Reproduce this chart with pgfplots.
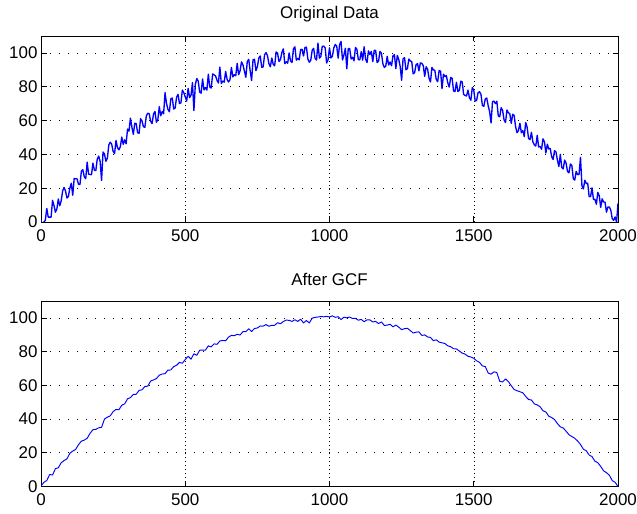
\documentclass[border=0pt]{standalone}
\usepackage{fontspec}
\setmainfont{Liberation Sans}
\usepackage{pgfplots}
\pgfplotsset{compat=1.18}
\pgfplotsset{mystyle/.style={
  scale only axis, width=577bp, height=186bp,
  xmin=0, xmax=2000, ymin=0, ymax=110,
  xtick={0,500,1000,1500,2000}, ytick={0,20,40,60,80,100},
  tick align=inside, major tick length=5.5bp,
  tick style={black, line width=0.6bp},
  axis line style={black, line width=0.8bp},
  grid=major,
  x grid style={black, line width=0.5bp, dash pattern=on 1bp off 3bp},
  y grid style={black, line width=0.6bp, dash pattern=on 1bp off 8bp},
  /pgf/number format/assume math mode=true,
  /pgf/number format/1000 sep={},
  scaled ticks=false,
  ticklabel style={font=\fontsize{17}{20}\selectfont},
  xticklabel style={yshift=-4bp},
  title style={font=\fontsize{17}{20}\selectfont, text depth=0pt},
}}
\begin{document}
\begin{tikzpicture}
\useasboundingbox (0bp,0bp) rectangle (637bp,514bp);
\begin{axis}[mystyle, at={(41bp,292bp)}, anchor=south west, title={Original Data}, title style={yshift=8bp}]
\addplot[blue, line width=1.35bp, line join=round] coordinates {
(0,1.0)(5,-2.0)(10,0.0)(15,1.0)(20,8.0)(25,2.9)(30,2.9)(35,2.9)(40,12.8)(45,9.8)
(50,5.8)(55,7.7)(60,13.6)(65,9.6)(70,12.5)(75,18.4)(80,20.4)(85,18.3)(90,14.2)(95,15.1)
(100,20.0)(105,22.9)(110,15.8)(115,25.7)(120,25.6)(125,25.5)(130,22.3)(135,22.2)(140,30.0)(145,30.9)
(150,26.8)(155,25.6)(160,35.4)(165,28.3)(170,28.1)(175,28.0)(180,34.8)(185,30.6)(190,30.4)(195,37.2)
(200,39.0)(205,35.8)(210,24.6)(215,41.4)(220,40.2)(225,35.9)(230,37.7)(235,45.5)(240,47.2)(245,46.0)
(250,41.8)(255,40.5)(260,48.2)(265,44.0)(270,42.7)(275,44.5)(280,50.2)(285,45.9)(290,48.6)(295,46.3)
(300,55.0)(305,53.7)(310,61.4)(315,56.1)(320,51.8)(325,58.4)(330,58.1)(335,52.8)(340,52.4)(345,61.1)
(350,59.8)(355,56.4)(360,56.0)(365,62.7)(370,64.3)(375,64.0)(380,59.6)(385,58.2)(390,63.8)(395,65.4)
(400,59.0)(405,60.6)(410,68.2)(415,62.8)(420,65.4)(425,64.0)(430,76.5)(435,70.1)(440,66.6)(445,65.2)
(450,72.8)(455,73.3)(460,66.8)(465,67.4)(470,73.9)(475,75.5)(480,70.0)(485,70.5)(490,78.0)(495,76.5)
(500,74.0)(505,71.5)(510,79.0)(515,73.5)(520,75.0)(525,82.4)(530,65.9)(535,81.4)(540,84.8)(545,83.3)
(550,76.8)(555,76.2)(560,84.6)(565,78.1)(570,79.5)(575,78.0)(580,87.4)(585,79.8)(590,79.2)(595,87.6)
(600,87.0)(605,86.4)(610,83.8)(615,82.2)(620,91.6)(625,81.9)(630,83.3)(635,82.7)(640,89.0)(645,84.4)
(650,82.8)(655,84.1)(660,91.4)(665,85.8)(670,87.1)(675,86.5)(680,93.8)(685,87.1)(690,89.4)(695,94.7)
(700,93.0)(705,89.3)(710,85.6)(715,94.9)(720,96.2)(725,89.4)(730,83.7)(735,96.0)(740,96.2)(745,89.5)
(750,91.8)(755,97.0)(760,98.2)(765,91.5)(770,91.7)(775,98.9)(780,100.2)(785,98.4)(790,93.6)(795,91.8)
(800,97.0)(805,93.2)(810,92.4)(815,100.6)(820,99.8)(825,94.9)(830,96.1)(835,100.3)(840,102.4)(845,93.6)
(850,94.8)(855,93.9)(860,100.0)(865,95.2)(870,94.3)(875,102.4)(880,103.6)(885,95.7)(890,96.8)(895,95.9)
(900,102.0)(905,102.1)(910,98.2)(915,103.3)(920,103.4)(925,96.4)(930,94.5)(935,95.6)(940,101.6)(945,102.7)
(950,96.8)(955,95.8)(960,105.8)(965,96.9)(970,97.9)(975,103.9)(980,104.0)(985,103.0)(990,94.0)(995,96.0)
(1000,103.0)(1005,97.0)(1010,98.0)(1015,103.0)(1020,105.0)(1025,104.0)(1030,96.9)(1035,104.9)(1040,106.8)(1045,95.8)
(1050,98.8)(1055,102.7)(1060,90.6)(1065,102.6)(1070,102.5)(1075,96.4)(1080,97.4)(1085,95.3)(1090,103.2)(1095,102.1)
(1100,96.0)(1105,95.9)(1110,100.8)(1115,95.7)(1120,103.6)(1125,96.4)(1130,94.3)(1135,101.2)(1140,99.0)(1145,100.9)
(1150,94.8)(1155,101.6)(1160,101.4)(1165,94.3)(1170,95.1)(1175,100.9)(1180,99.8)(1185,93.6)(1190,91.4)(1195,92.2)
(1200,98.0)(1205,92.8)(1210,94.6)(1215,92.4)(1220,98.2)(1225,99.0)(1230,90.7)(1235,98.5)(1240,96.2)(1245,92.0)
(1250,83.8)(1255,96.5)(1260,97.2)(1265,90.0)(1270,90.7)(1275,96.4)(1280,95.2)(1285,94.9)(1290,87.6)(1295,88.3)
(1300,93.0)(1305,93.7)(1310,89.4)(1315,94.1)(1320,93.8)(1325,92.5)(1330,86.1)(1335,91.8)(1340,90.4)(1345,85.1)
(1350,82.8)(1355,91.4)(1360,90.0)(1365,89.7)(1370,84.3)(1375,83.0)(1380,89.6)(1385,89.2)(1390,78.8)(1395,87.4)
(1400,86.0)(1405,86.6)(1410,82.2)(1415,79.8)(1420,85.4)(1425,85.0)(1430,77.5)(1435,77.1)(1440,82.6)(1445,77.2)
(1450,77.8)(1455,83.3)(1460,82.8)(1465,75.4)(1470,74.9)(1475,74.5)(1480,78.0)(1485,73.5)(1490,72.0)(1495,79.5)
(1500,78.0)(1505,71.5)(1510,72.0)(1515,76.5)(1520,77.0)(1525,75.5)(1530,68.9)(1535,68.4)(1540,72.8)(1545,73.3)
(1550,68.8)(1555,65.2)(1560,58.6)(1565,71.1)(1570,71.5)(1575,70.0)(1580,71.4)(1585,62.8)(1590,62.2)(1595,67.6)
(1600,66.0)(1605,60.4)(1610,58.8)(1615,66.2)(1620,64.6)(1625,64.0)(1630,58.3)(1635,63.7)(1640,63.0)(1645,56.4)
(1650,52.8)(1655,54.1)(1660,58.4)(1665,52.8)(1670,54.1)(1675,50.5)(1680,58.8)(1685,56.1)(1690,49.4)(1695,48.7)
(1700,53.0)(1705,47.3)(1710,45.6)(1715,44.9)(1720,51.2)(1725,44.4)(1730,44.7)(1735,43.0)(1740,49.2)(1745,47.5)
(1750,40.8)(1755,46.0)(1760,43.2)(1765,43.5)(1770,38.7)(1775,37.0)(1780,42.2)(1785,41.4)(1790,36.6)(1795,32.8)
(1800,40.0)(1805,32.2)(1810,31.4)(1815,36.6)(1820,34.8)(1825,29.9)(1830,29.1)(1835,34.3)(1840,33.4)(1845,25.6)
(1850,24.8)(1855,29.9)(1860,28.0)(1865,28.2)(1870,38.3)(1875,21.4)(1880,19.6)(1885,24.7)(1890,22.8)(1895,22.9)
(1900,15.0)(1905,15.1)(1910,20.2)(1915,13.3)(1920,13.4)(1925,10.5)(1930,17.5)(1935,15.6)(1940,8.6)(1945,13.7)
(1950,11.8)(1955,11.8)(1960,5.8)(1965,8.9)(1970,8.9)(1975,7.0)(1980,2.0)(1985,1.0)(1990,3.0)(1995,0.0)
(2000,11.0)
};
\end{axis}
\begin{axis}[mystyle, height=185.5bp, at={(41bp,27.5bp)}, anchor=south west, title={After GCF}, title style={yshift=6bp}]
\addplot[blue, line width=0.95bp, line join=round] coordinates {
(0,0.3)(10,2.5)(20,3.5)(30,7.1)(40,6.8)(50,10.6)(60,11.1)(70,14.1)(80,15.4)(90,16.4)
(100,19.7)(110,21.0)(120,22.0)(130,24.8)(140,26.9)(150,27.5)(160,28.6)(170,31.5)(180,33.7)(190,33.9)
(200,34.8)(210,35.1)(220,40.0)(230,41.1)(240,41.9)(250,44.4)(260,45.7)(270,45.5)(280,48.2)(290,49.0)
(300,52.0)(310,52.7)(320,54.6)(330,54.7)(340,57.0)(350,57.3)(360,59.3)(370,59.5)(380,62.5)(390,63.2)
(400,64.0)(410,66.0)(420,66.7)(430,66.9)(440,69.0)(450,69.1)(460,71.1)(470,71.9)(480,73.6)(490,73.1)
(500,75.3)(510,77.2)(520,75.5)(530,78.7)(540,77.8)(550,80.8)(560,80.9)(570,80.9)(580,83.4)(590,82.8)
(600,84.6)(610,84.3)(620,86.3)(630,86.6)(640,86.4)(650,88.6)(660,89.6)(670,89.4)(680,90.3)(690,89.8)
(700,91.8)(710,91.8)(720,93.5)(730,91.9)(740,93.7)(750,94.0)(760,95.2)(770,95.1)(780,96.0)(790,95.0)
(800,95.6)(810,95.6)(820,97.1)(830,96.5)(840,97.8)(850,98.7)(860,98.5)(870,97.9)(880,98.9)(890,97.9)
(900,99.2)(910,97.0)(920,98.4)(930,97.0)(940,99.8)(950,100.3)(960,100.5)(970,100.8)(980,100.6)(990,100.9)
(1000,100.5)(1010,101.2)(1020,100.3)(1030,100.7)(1040,99.0)(1050,100.4)(1060,100.0)(1070,100.5)(1080,99.6)(1090,99.7)
(1100,98.6)(1110,99.1)(1120,97.7)(1130,98.8)(1140,98.8)(1150,97.6)(1160,97.9)(1170,96.6)(1180,97.6)(1190,95.5)
(1200,95.7)(1210,96.2)(1220,94.7)(1230,95.7)(1240,94.5)(1250,93.0)(1260,93.6)(1270,93.8)(1280,92.5)(1290,91.0)
(1300,91.5)(1310,91.7)(1320,89.6)(1330,89.9)(1340,88.7)(1350,88.4)(1360,86.5)(1370,87.0)(1380,85.6)(1390,85.2)
(1400,84.8)(1410,83.4)(1420,82.9)(1430,81.7)(1440,81.6)(1450,80.3)(1460,79.1)(1470,78.5)(1480,77.2)(1490,76.8)
(1500,76.0)(1510,74.5)(1520,73.6)(1530,71.5)(1540,71.1)(1550,67.3)(1560,66.6)(1570,68.0)(1580,67.6)(1590,62.4)
(1600,62.0)(1610,63.8)(1620,62.2)(1630,59.8)(1640,57.5)(1650,56.8)(1660,56.2)(1670,55.6)(1680,53.4)(1690,51.6)
(1700,51.3)(1710,49.0)(1720,48.4)(1730,47.3)(1740,44.9)(1750,44.2)(1760,41.7)(1770,40.9)(1780,39.7)(1790,37.3)
(1800,35.4)(1810,34.7)(1820,32.8)(1830,30.7)(1840,29.6)(1850,28.6)(1860,27.0)(1870,24.9)(1880,22.1)(1890,21.2)
(1900,18.7)(1910,17.7)(1920,15.0)(1930,14.1)(1940,11.9)(1950,9.3)(1960,8.2)(1970,6.7)(1980,3.5)(1990,2.5)
(2000,0.0)
};
\end{axis}
\end{tikzpicture}
\end{document}
